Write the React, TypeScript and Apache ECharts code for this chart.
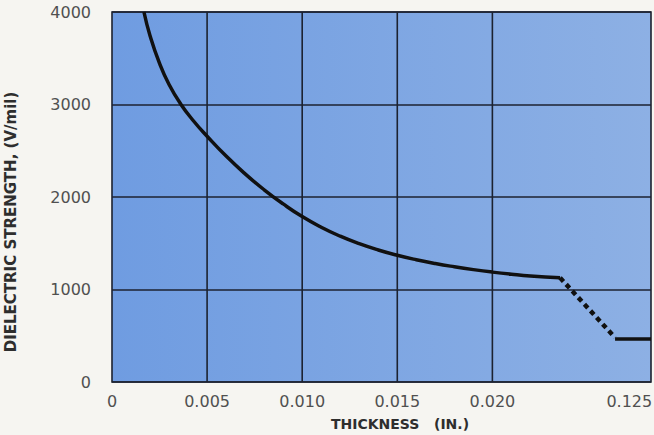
import React, { useEffect, useRef } from "react";
import * as echarts from "echarts";

// Main measured curve: thickness (in.) vs dielectric strength (V/mil)
const curveThickness = [0.00168, 0.002, 0.0025, 0.003, 0.0036, 0.0043, 0.005, 0.006, 0.007, 0.008, 0.009, 0.01, 0.011, 0.012, 0.013, 0.014, 0.015, 0.016, 0.017, 0.018, 0.019, 0.02, 0.021, 0.022, 0.02356];
const curveStrength = [4000, 3744, 3444, 3216, 3009, 2819, 2657, 2442, 2250, 2078, 1925, 1788, 1673, 1576, 1495, 1427, 1370, 1322, 1281, 1246, 1215, 1188, 1165, 1146, 1127];

// Broken-axis transition (dashed) and the 0.125 in. value
const dashThickness = [0.02356, 0.02645];
const dashStrength = [1127, 480];
const flatThickness = [0.02645, 0.02834];
const flatStrength = [465, 465];

// Axis ticks
const xTickValues = [0, 0.005, 0.01, 0.015, 0.02, 0.0272];
const xTickLabels = ["0", "0.005", "0.010", "0.015", "0.020", "0.125"];
const xGridValues = [0.005, 0.01, 0.015, 0.02];
const xMax = 0.02834;
const yMin = 0;
const yMax = 4000;
const yInterval = 1000;

const zip = (a: number[], b: number[]) => a.map((v, i) => [v, b[i]]);

export default function App() {
  const ref = useRef<HTMLDivElement>(null);
  useEffect(() => {
    document.body.style.margin = "0";
    document.body.style.background = "#f6f5f1";
    const chart = echarts.init(ref.current!, null, { renderer: "svg" });
    const lineColor = "#1c2230";
    const gridSeries = xGridValues.map((v) => ({
      type: "line",
      data: [
        [v, yMin],
        [v, yMax],
      ],
      showSymbol: false,
      silent: true,
      lineStyle: { color: lineColor, width: 1.6 },
      z: 1,
    }));
    chart.setOption({
      animation: false,
      backgroundColor: "#f6f5f1",
      grid: {
        left: 112,
        top: 12,
        right: 3,
        bottom: 53,
        outerBoundsMode: "none",
        containLabel: false,
        show: true,
        borderColor: lineColor,
        borderWidth: 1.6,
        backgroundColor: {
          type: "linear",
          x: 0,
          y: 0,
          x2: 1,
          y2: 0,
          colorStops: [
            { offset: 0, color: "#6f9ce1" },
            { offset: 1, color: "#8db0e4" },
          ],
        },
      },
      xAxis: {
        type: "value",
        min: 0,
        max: xMax,
        name: "THICKNESS   (IN.)",
        nameLocation: "middle",
        nameGap: 35,
        nameTextStyle: {
          fontFamily: "DejaVu Sans",
          fontSize: 14,
          fontWeight: "bold",
          color: "#2e2e2e",
          padding: [0, 0, 0, 37],
        },
        axisLine: { show: false },
        axisTick: { show: false },
        splitLine: { show: false },
        axisLabel: {
          customValues: xTickValues,
          margin: 11,
          fontFamily: "DejaVu Sans",
          fontSize: 16,
          color: "#505050",
          formatter: (v: number) => {
            let best = 0;
            xTickValues.forEach((t, i) => {
              if (Math.abs(t - v) < Math.abs(xTickValues[best] - v)) best = i;
            });
            return xTickLabels[best];
          },
        },
      },
      yAxis: {
        type: "value",
        min: yMin,
        max: yMax,
        interval: yInterval,
        name: "DIELECTRIC STRENGTH, (V/mil)",
        nameLocation: "middle",
        nameGap: 94,
        nameTextStyle: {
          fontFamily: "DejaVu Sans",
          fontSize: 15,
          fontWeight: "bold",
          color: "#2e2e2e",
          padding: [0, 50, 0, 0],
        },
        axisLine: { show: false },
        axisTick: { show: false },
        splitLine: { show: true, lineStyle: { color: lineColor, width: 1.6 } },
        axisLabel: {
          margin: 21,
          fontFamily: "DejaVu Sans",
          fontSize: 16,
          color: "#505050",
          formatter: (v: number) => String(v),
        },
      },
      series: [
        ...gridSeries,
        {
          type: "line",
          data: zip(curveThickness, curveStrength),
          smooth: 0.5,
          showSymbol: false,
          lineStyle: { color: "#111111", width: 3.5 },
          z: 3,
        },
        {
          type: "line",
          data: zip(dashThickness, dashStrength),
          showSymbol: false,
          lineStyle: { color: "#111111", width: 4.5, type: [5, 4] },
          z: 3,
        },
        {
          type: "line",
          data: zip(flatThickness, flatStrength),
          showSymbol: false,
          lineStyle: { color: "#111111", width: 3.5 },
          z: 3,
        },
      ],
    });
    return () => chart.dispose();
  }, []);
  return (
    <div
      ref={ref}
      style={{ position: "absolute", left: 0, top: 0, width: 654, height: 435, background: "#f6f5f1" }}
    />
  );
}
